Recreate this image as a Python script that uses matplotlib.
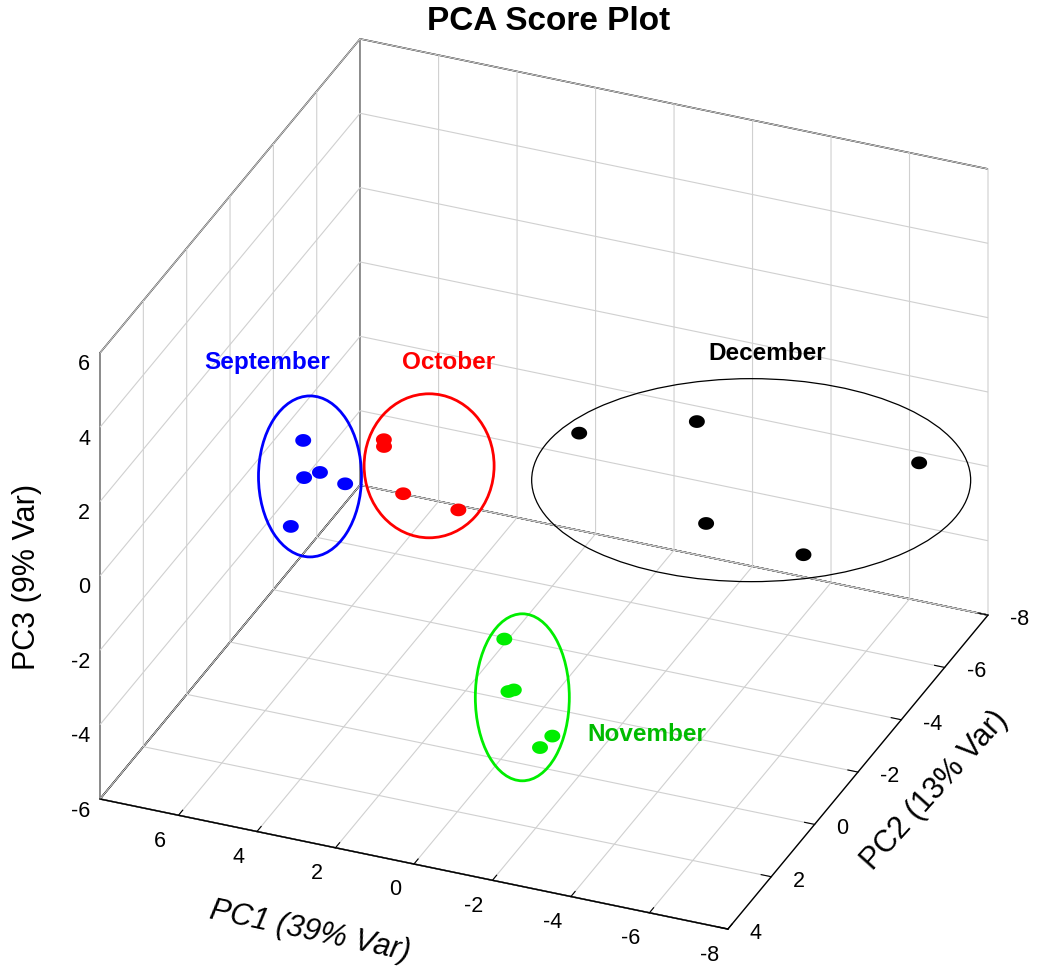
import numpy as np
import matplotlib
matplotlib.use("Agg")
import matplotlib.pyplot as plt
from matplotlib.patches import Ellipse
from matplotlib.markers import MarkerStyle
from mpl_toolkits.mplot3d import proj3d

# ── data (PCA scores) ─────────────────────────────────────────────────────────
SEP_PC1 = [3.65, 4.18, 3.50, 3.41, 3.69]
SEP_PC2 = [2.5, 1.5, 2.0, 1.0, 3.0]
SEP_PC3 = [3.54, 1.72, 2.36, 1.37, 1.57]

OCT_PC1 = [2.70, 2.42, 2.76, 1.63]
OCT_PC2 = [0.5, 1.0, -0.5, -1.0]
OCT_PC3 = [2.36, 2.59, 0.19, -0.35]

NOV_PC1 = [-1.75, -1.58, -1.44, -3.25, -2.66]
NOV_PC2 = [3.0, 2.5, 2.0, 3.5, 3.0]
NOV_PC3 = [-0.27, -2.07, -2.41, -2.20, -2.99]

DEC_PC1 = [0.76, -1.41, -7.35, -2.75, -3.85]
DEC_PC2 = [-5.0, -6.5, -6.0, -4.5, -7.0]
DEC_PC3 = [-0.91, -1.18, -0.64, -2.22, -4.58]

X_TICKS = [-8, -6, -4, -2, 0, 2, 4, 6]
Y_TICKS = [-8, -6, -4, -2, 0, 2, 4]
Z_TICKS = [-6, -4, -2, 0, 2, 4, 6]

X_LABEL = "PC1 (39% Var)"
Y_LABEL = "PC2 (13% Var)"
Z_LABEL = "PC3 (9% Var)"
TITLE = "PCA Score Plot"

# ── layout (pixels in the 1037x971 image, y from top) ─────────────────────────
W, H = 1037, 971
BOX_LEFT = (100, 799)     # corner PC1=8,  PC2=4,  PC3=-6
BOX_RIGHT = (988, 616)    # corner PC1=-8, PC2=-8, PC3=-6
TICK_FS = 15.5

GROUPS = [
    # name, pc1, pc2, pc3, point colour, label colour, label xy, ellipse w/h, nudge, lw
    ("September", SEP_PC1, SEP_PC2, SEP_PC3, "#0000ff", "#0000ff", (267, 363), (103, 161), (-8, -7), 2.0),
    ("October",   OCT_PC1, OCT_PC2, OCT_PC3, "#ff0000", "#ff0000", (449, 362), (130, 144), (8, -9), 2.0),
    ("November",  NOV_PC1, NOV_PC2, NOV_PC3, "#00ee00", "#00bb00", (647, 734), (94, 167), (-6, 4), 2.0),
    ("December",  DEC_PC1, DEC_PC2, DEC_PC3, "#000000", "#000000", (767, 353), (439, 203), (2, -8), 0.9),
]

plt.rcParams["font.family"] = ["Liberation Sans", "DejaVu Sans"]
plt.rcParams["axes.unicode_minus"] = False
plt.rcParams["grid.color"] = "#d0d0d0"
plt.rcParams["grid.linewidth"] = 0.8

fig = plt.figure(figsize=(W / 100, H / 100), dpi=100)
ax = fig.add_axes([0.1, 0.1, 0.8, 0.8], projection="3d", proj_type="ortho")
ax.view_init(elev=30, azim=112.5)
ax.set_box_aspect((1, 1, 0.758))
ax.set_xlim(-8, 8)
ax.set_ylim(-8, 4)
ax.set_zlim(-6, 6)
ax.set_xticks(X_TICKS)
ax.set_yticks(Y_TICKS)
ax.set_zticks(Z_TICKS)

for axis in (ax.xaxis, ax.yaxis, ax.zaxis):
    axis.pane.set_facecolor((1, 1, 1, 0))
    axis.pane.set_edgecolor("black")
    axis.pane.set_alpha(None)
    axis.pane.set_linewidth(1.1)
    axis.line.set_color("black")
    axis.line.set_linewidth(1.0)
    axis._axinfo["tick"]["inward_factor"] = 0.0
    axis._axinfo["tick"]["outward_factor"] = 0.2
    # tick labels are drawn below as plain texts, like the original
    axis.set_tick_params(which="both", label1On=False, label2On=False)
    axis.label.set_visible(False)
    axis.offsetText.set_visible(False)
ax.zaxis._axinfo["tick"]["outward_factor"] = 0.0
ax.zaxis.line.set_visible(False)

# ellipse-shaped marker (dots look slightly flattened in the original)
t = np.linspace(0, 2 * np.pi, 40)
dot = MarkerStyle(np.column_stack([1.25 * np.cos(t), np.sin(t)]))

for name, p1, p2, p3, col, lcol, lxy, esize, nudge, lw in GROUPS:
    ax.scatter(p1, p2, p3, marker=dot, s=132, c=col, edgecolors="none",
               depthshade=False)


def to_px(x, y, z):
    xs, ys, _ = proj3d.proj_transform(np.atleast_1d(x), np.atleast_1d(y),
                                      np.atleast_1d(z), ax.get_proj())
    return ax.transData.transform(np.column_stack([xs, ys]))


# fit the box onto the same pixels as the original
fig.canvas.draw()
pl = to_px(8, 4, -6)[0]
pr = to_px(-8, -8, -6)[0]
bb = ax.get_position().transformed(fig.transFigure)
k = (BOX_RIGHT[0] - BOX_LEFT[0]) / (pr[0] - pl[0])
size = bb.width * k
gx = (pl[0] - bb.x0) / bb.width
gy = (pl[1] - bb.y0) / bb.height
x0 = BOX_LEFT[0] - gx * size
y0 = (H - BOX_LEFT[1]) - gy * size
ax.set_position([x0 / W, y0 / H, size / W, size / H])
fig.canvas.draw()


def tick_text(x, y, z, s, ha):
    px = to_px(x, y, z)[0]
    fig.text(px[0] / W, px[1] / H, s, fontsize=TICK_FS, ha=ha, va="center")


for v in X_TICKS:
    tick_text(v, 4.85, -6.1, str(v), "center")
for v in Y_TICKS:
    tick_text(-8.56, v, -6, str(v), "left")
for v in Z_TICKS:
    tick_text(8, 4.46, v, str(v), "right")

# cluster ellipses and month labels
for name, p1, p2, p3, col, lcol, lxy, esize, nudge, lw in GROUPS:
    pts = to_px(p1, p2, p3)
    cx = (pts[:, 0].min() + pts[:, 0].max()) / 2 + nudge[0]
    cy = (pts[:, 1].min() + pts[:, 1].max()) / 2 - nudge[1]
    fig.add_artist(Ellipse((cx / W, cy / H), esize[0] / W, esize[1] / H,
                           transform=fig.transFigure, fill=False,
                           edgecolor=col, linewidth=lw))
    fig.text(lxy[0] / W, 1 - lxy[1] / H, name, color=lcol, fontsize=17.5,
             fontweight="bold", ha="center", va="center")

fig.text(549 / W, 1 - 22 / H, TITLE, fontsize=24, fontweight="bold",
         ha="center", va="center")
fig.text(310 / W, 1 - 932 / H, X_LABEL, fontsize=22, style="italic",
         rotation=-12, ha="center", va="center", rotation_mode="anchor")
fig.text(935 / W, 1 - 790 / H, Y_LABEL, fontsize=22, rotation=48,
         ha="center", va="center", rotation_mode="anchor")
fig.text(27 / W, 1 - 577 / H, Z_LABEL, fontsize=22, rotation=90,
         ha="center", va="center", rotation_mode="anchor")

fig.savefig("out.png", dpi=100)
